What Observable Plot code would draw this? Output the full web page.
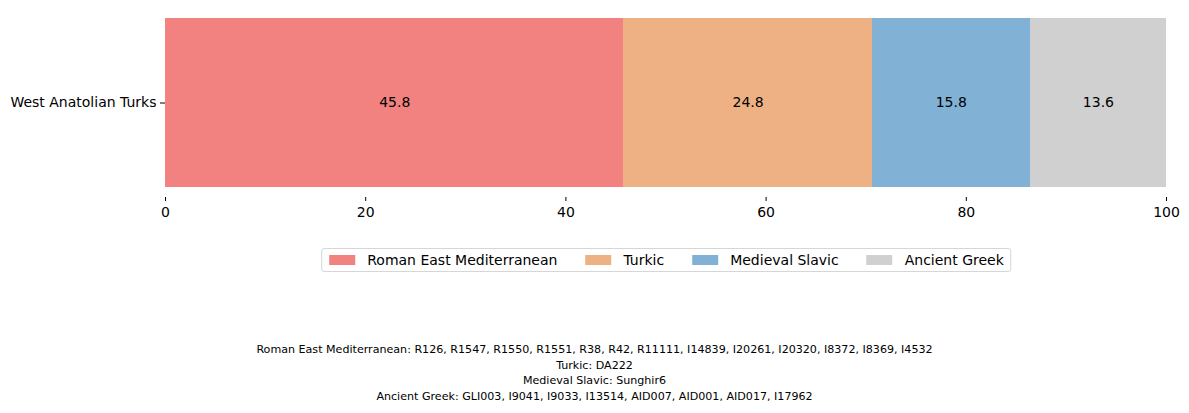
<!DOCTYPE html>
<html>
<head>
<meta charset="utf-8">
<script src="https://cdn.jsdelivr.net/npm/d3@7"></script>
<script src="https://cdn.jsdelivr.net/npm/@observablehq/plot@0.6"></script>
<style>
  html, body { margin: 0; padding: 0; background: #fff; }
  #wrap { position: relative; width: 1189px; height: 413px; font-family: "DejaVu Sans", sans-serif; color: #000; }
  #legend { position: absolute; top: 248px; left: 666px; transform: translateX(-50%);
    display: flex; align-items: center; height: 24px; padding: 0 6px 0 7px;
    border: 1px solid #d6d6d6; border-radius: 3px; font-size: 14px; white-space: nowrap; box-sizing: border-box; }
  .item { display: flex; align-items: center; margin-right: 28px; }
  .item:last-child { margin-right: 0; }
  .sw { width: 26px; height: 10px; margin-right: 12px; }
  #caption { position: absolute; top: 342px; left: 0; width: 1189px; text-align: center; font-size: 11.1px; line-height: 15.6px; }
</style>
</head>
<body>
<div id="wrap">
  <div id="chart"></div>
  <div id="legend"></div>
  <div id="caption"></div>
</div>
<script>
const population = "West Anatolian Turks";
const categories = ["Roman East Mediterranean", "Turkic", "Medieval Slavic", "Ancient Greek"];
const values = [45.8, 24.8, 15.8, 13.6];
const colors = ["#f1827f", "#edb183", "#81b2d5", "#d0d0d0"];
const xTicks = [0, 20, 40, 60, 80, 100];
const samples = [
  "R126, R1547, R1550, R1551, R38, R42, R11111, I14839, I20261, I20320, I8372, I8369, I4532",
  "DA222",
  "Sunghir6",
  "GLI003, I9041, I9033, I13514, AID007, AID001, AID017, I17962"
];

const data = categories.map((c, i) => ({pop: population, source: c, value: values[i]}));

const chart = Plot.plot({
  width: 1189,
  height: 230,
  marginLeft: 165,
  marginRight: 23,
  marginTop: 8,
  marginBottom: 33,
  style: {fontFamily: "DejaVu Sans, sans-serif", fontSize: "14px", color: "#000", background: "#fff"},
  x: {domain: [0, 100]},
  y: {domain: [population], padding: 0},
  color: {domain: categories, range: colors},
  marks: [
    Plot.barX(data, Plot.stackX({x: "value", y: "pop", fill: "source", insetTop: 10, insetBottom: 10, shapeRendering: "crispEdges"})),
    Plot.textX(data, Plot.stackX({x: "value", y: "pop", z: "source", text: d => d.value.toFixed(1), fill: "#000", fontSize: 14})),
    Plot.axisX({ticks: xTicks, tickSize: 4, tickPadding: 6, label: null, fontSize: 14}),
    Plot.axisY({tickSize: 5, tickPadding: 4, label: null, fontSize: 14})
  ]
});
document.getElementById("chart").appendChild(chart);

const legend = document.getElementById("legend");
categories.forEach((c, i) => {
  const item = document.createElement("div");
  item.className = "item";
  const sw = document.createElement("div");
  sw.className = "sw";
  sw.style.background = colors[i];
  const t = document.createElement("span");
  t.textContent = c;
  item.appendChild(sw);
  item.appendChild(t);
  legend.appendChild(item);
});

const cap = document.getElementById("caption");
categories.forEach((c, i) => {
  const line = document.createElement("div");
  line.textContent = c + ": " + samples[i];
  cap.appendChild(line);
});
</script>
</body>
</html>
